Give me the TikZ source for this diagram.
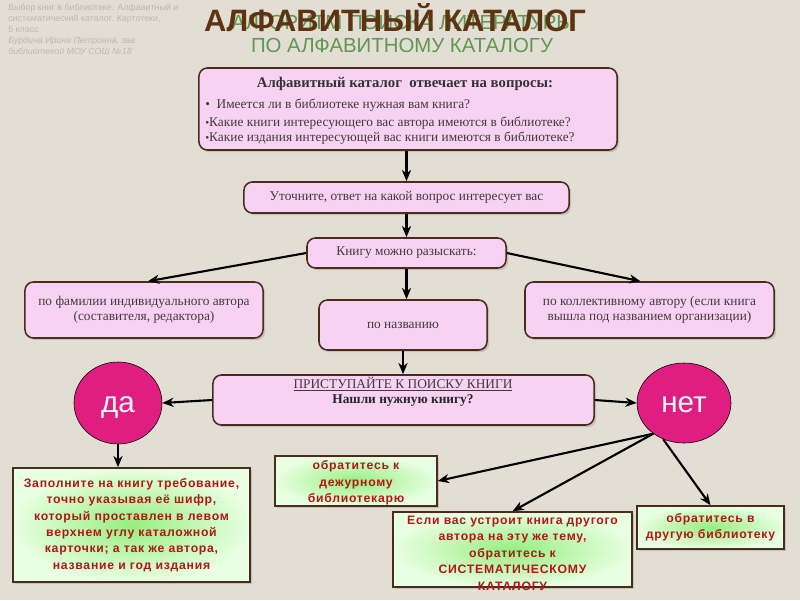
\documentclass[tikz,border=0pt]{standalone}
\usepackage{fontspec}
\setmainfont{Liberation Serif}
\newfontfamily\arialf{Liberation Sans}
\newfontfamily\greenboxf[LetterSpace=6]{Liberation Sans}
\usepackage{tikz}
\usetikzlibrary{positioning,calc}
\usetikzlibrary{shapes,shadows,arrows,arrows.meta}
\definecolor{bg}{RGB}{227,222,211}
\definecolor{pinkfill}{RGB}{247,210,242}
\definecolor{boxline}{RGB}{72,45,28}
\definecolor{circfill}{RGB}{224,30,130}
\definecolor{grin}{RGB}{150,238,128}
\definecolor{grout}{RGB}{232,255,225}
\definecolor{redtext}{RGB}{178,22,22}
\definecolor{titlebrown}{RGB}{92,52,18}
\definecolor{titlegreen}{RGB}{98,150,82}
\definecolor{graytext}{RGB}{190,184,172}
\definecolor{pinktext}{RGB}{66,58,58}
\tikzset{pinkbox/.style={draw=boxline,line width=1.1pt,fill=pinkfill,rounded corners=6pt,drop shadow={shadow xshift=1.5pt,shadow yshift=-1.5pt,opacity=0.3},text=pinktext,align=center,font=\fontsize{9.5}{11}\selectfont}}
\tikzset{greenbox/.style={draw=boxline,line width=1.1pt,shading=radial,inner color=grin,outer color=grout,drop shadow={shadow xshift=1.5pt,shadow yshift=-1.5pt,opacity=0.3},text=redtext,align=center,inner sep=0pt,font=\greenboxf\bfseries\fontsize{8.7}{11.7}\selectfont}}
\tikzset{greentext/.style={text=redtext,align=center,inner sep=0pt,font=\greenboxf\bfseries\fontsize{8.7}{11.7}\selectfont}}
\tikzset{yesno/.style={ellipse,draw=black,thin,fill=circfill,text=white!88!pink,inner sep=0pt,text height=14pt,text depth=0pt,font=\arialf\fontsize{21}{21}\selectfont}}
\tikzset{link/.style={-{Stealth[length=8pt,width=6.5pt,inset=2.5pt]},line width=1.5pt}}

\begin{document}
\begin{tikzpicture}
		[x=0.025cm,y=-0.025cm]
	\fill[bg] (0,0) rectangle (800,600);
	\useasboundingbox (0,0) rectangle (800,600);

	%% Header
	\node[anchor=north west,align=left,text=graytext,inner sep=0pt,font=\arialf\fontsize{6.3}{7.8}\selectfont] (credits) at (8,4)
		{Выбор книг в библиотеке. Алфавитный и\\систематический каталог. Картотеки,\\5 класс\\
		\itshape Бурдина Ирина Петровна, зав.\\\itshape библиотекой МОУ СОШ №18};
	\node[text=titlegreen,font=\arialf\fontsize{14.5}{14.5}\selectfont] (title1) at (403,22) {АЛГОРИТМ ПОИСКА ЛИТЕРАТУРЫ};
	\node[text=titlegreen,font=\arialf\fontsize{14.5}{14.5}\selectfont] (title2) at (402,45) {ПО АЛФАВИТНОМУ КАТАЛОГУ};
	\node[text=titlebrown,font=\arialf\bfseries\fontsize{22}{22}\selectfont] (maintitle) at (395,18) {АЛФАВИТНЫЙ КАТАЛОГ};

	%% Boxes
	\node[pinkbox,minimum width=10.45cm,minimum height=2.05cm] (ask) at (408,109) {};
	\node[text=black!80,font=\bfseries\fontsize{10.5}{12}\selectfont] (askhead) at (405,84) {Алфавитный каталог \ отвечает на вопросы:};
	\node[anchor=north west,align=left,inner sep=0pt,text=pinktext,font=\fontsize{9.5}{11}\selectfont] (asklist) at (205,99)
		{\textbullet\ \ Имеется ли в библиотеке нужная вам книга?\\[1.5pt]
		{\footnotesize\textbullet}Какие книги интересующего вас автора имеются в библиотеке?\\
		{\footnotesize\textbullet}Какие издания интересующей вас книги имеются в библиотеке?};
	\node[pinkbox,minimum width=8.125cm,minimum height=0.775cm] (clarify) at (406.5,197.5) {Уточните, ответ на какой вопрос интересует вас};
	\node[pinkbox,minimum width=4.975cm,minimum height=0.75cm] (find) at (406.5,253) {Книгу можно разыскать:};
	\node[pinkbox,minimum width=5.95cm,minimum height=1.4cm] (byauthor) at (144,310) {по фамилии индивидуального автора\\(составителя, редактора)};
	\node[pinkbox,minimum width=4.2cm,minimum height=1.25cm] (bytitle) at (403,325) {по названию};
	\node[pinkbox,minimum width=6.225cm,minimum height=1.4cm] (bycoll) at (649.5,310) {по коллективному автору (если книга\\вышла под названием организации)};
	\node[pinkbox,minimum width=9.525cm,minimum height=1.25cm] (search) at (403.5,400) {};
	\node[align=center,text=pinktext,font=\fontsize{9.5}{11}\selectfont] (searchtext) at (403,392)
		{\underline{ПРИСТУПАЙТЕ К ПОИСКУ КНИГИ}\\{\bfseries\color{black!85}Нашли нужную книгу?}};

	% answers
	\node[yesno,minimum width=2.2cm,minimum height=2.05cm] (yes) at (118,403) {да};
	\node[yesno,minimum width=2.35cm,minimum height=2cm] (no) at (684,403) {нет};
	\node[greenbox,minimum width=5.925cm,minimum height=2.85cm] (fillreq) at (131.5,525)
		{Заполните на книгу требование,\\точно указывая её шифр,\\который проставлен в левом\\верхнем углу каталожной\\карточки; а так же автора,\\название и год издания};
	\node[greenbox,minimum width=4.05cm,minimum height=1.25cm] (askduty) at (356,481) {};
	\node[greentext] (askdutytext) at (356,483) {обратитесь к\\дежурному\\библиотекарю};
	\node[greenbox,minimum width=5.975cm,minimum height=1.875cm] (syscat) at (512.5,549.5) {};
	\node[greentext] (syscattext) at (512.5,553)
		{Если вас устроит книга другого\\автора на эту же тему,\\обратитесь к\\СИСТЕМАТИЧЕСКОМУ\\КАТАЛОГУ};
	\node[greenbox,minimum width=3.675cm,minimum height=1.075cm] (otherlib) at (710.5,527.5) {обратитесь в\\другую библиотеку};

	%% Connectors
	\draw[link] (ask.south -| clarify.north) -- (clarify.north);
	\draw[link] (clarify) -- (find);
	\draw[link] (find.west) -- ($(byauthor.north)+(4,0)$);
	\draw[link] (find.east) -- ($(bycoll.north)+(-9,0)$);
	\draw[link] (find.south) -- (find.south |- bytitle.north);
	\draw[link] (bytitle.south) -- (bytitle.south |- search.north);
	\draw[link] (search.west) -- (yes.east);
	\draw[link] (search.east) -- (no.west);
	\draw[link] (yes.south) -- (yes.south |- fillreq.north);
	\draw[link] (no.225) -- (askduty.east);
	\draw[link] (no.225) -- (syscat.north);
	\draw[link] (no.240) -- (otherlib.north);
\end{tikzpicture}
\end{document}
